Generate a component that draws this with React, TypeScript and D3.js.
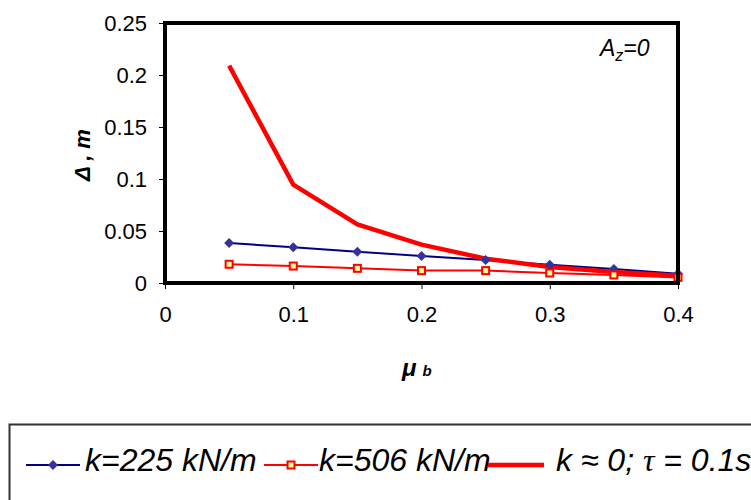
import React, { useEffect, useRef } from "react";
import * as d3 from "d3";

const muValues = [0.05, 0.1, 0.15, 0.2, 0.25, 0.3, 0.35, 0.4];
const k225 = [0.0385, 0.0343, 0.0301, 0.026, 0.0221, 0.0176, 0.0135, 0.009];
const k506 = [0.018, 0.0163, 0.0141, 0.0119, 0.0119, 0.0096, 0.0077, 0.0054];
const k0 = [0.209, 0.0946, 0.0564, 0.0369, 0.0234, 0.0154, 0.0106, 0.007];
const xTicks = [0, 0.1, 0.2, 0.3, 0.4];
const yTicks = [0, 0.05, 0.1, 0.15, 0.2, 0.25];

const W = 751;
const H = 500;
const L = 165, R = 678, T = 23, B = 283;
const FONT = "'Liberation Sans', Arial, sans-serif";

export default function App() {
  const xAxisRef = useRef<SVGGElement>(null);
  const yAxisRef = useRef<SVGGElement>(null);
  const x = d3.scaleLinear().domain([0, 0.4]).range([L, R]);
  const y = d3.scaleLinear().domain([0, 0.25]).range([B, T]);

  useEffect(() => {
    const xa = d3.select(xAxisRef.current!);
    xa.selectAll("*").remove();
    xa.call(
      d3.axisBottom(x).tickValues(xTicks).tickSize(6).tickPadding(17).tickFormat((d) => String(d))
    );
    xa.select(".domain").remove();
    xa.selectAll("text").attr("font-size", 22).attr("font-family", FONT).attr("fill", "#000");
    xa.selectAll("line").attr("stroke", "#000").attr("stroke-width", 1);

    const ya = d3.select(yAxisRef.current!);
    ya.selectAll("*").remove();
    ya.call(
      d3.axisLeft(y).tickValues(yTicks).tickSize(6).tickPadding(12).tickFormat((d) => String(d))
    );
    ya.select(".domain").remove();
    ya.selectAll("text").attr("font-size", 22).attr("font-family", FONT).attr("fill", "#000");
    ya.selectAll("line").attr("stroke", "#000").attr("stroke-width", 1);
  }, []);

  const line = d3
    .line<number>()
    .x((_, i) => x(muValues[i]))
    .y((d) => y(d));

  const diamond = (cx: number, cy: number, r: number) =>
    `M${cx},${cy - r}L${cx + r},${cy}L${cx},${cy + r}L${cx - r},${cy}Z`;

  return (
    <svg
      width={W}
      height={H}
      style={{ position: "fixed", left: 0, top: 0, background: "#fff" }}
    >
      <rect x={0} y={0} width={W} height={H} fill="#fff" />
      <g ref={xAxisRef} transform={`translate(0,${B})`} />
      <g ref={yAxisRef} transform={`translate(${L},0)`} />

      <path d={line(k225) || ""} fill="none" stroke="#000080" strokeWidth={2} />
      <path d={line(k506) || ""} fill="none" stroke="#ff0000" strokeWidth={2} />
      <path d={line(k0) || ""} fill="none" stroke="#ff0000" strokeWidth={4.5} strokeLinejoin="round" />

      {k225.map((v, i) => (
        <path key={"d" + i} d={diamond(x(muValues[i]), y(v), 5)} fill="#333399" />
      ))}
      {k506.map((v, i) => (
        <rect
          key={"s" + i}
          x={x(muValues[i]) - 3.5}
          y={y(v) - 3.5}
          width={7}
          height={7}
          fill="#ffff99"
          stroke="#ff0000"
          strokeWidth={2}
        />
      ))}

      <rect x={L} y={T} width={R - L} height={B - T} fill="none" stroke="#000" strokeWidth={4} />

      <text x={600} y={56} fontFamily={FONT} fontStyle="italic" fontSize={23}>
        A<tspan fontSize={16} dy={5}>z</tspan>
        <tspan dy={-5}>=0</tspan>
      </text>

      <text
        transform="translate(82,155) rotate(-90)"
        textAnchor="middle"
        fontFamily={FONT}
        fontStyle="italic"
        fontWeight="bold"
        fontSize={22}
        dominantBaseline="central"
      >
        Δ , m
      </text>

      <text x={402} y={376} fontFamily={FONT} fontStyle="italic" fontWeight="bold" fontSize={24}>
        μ<tspan fontSize={15} dx={6}>b</tspan>
      </text>

      <rect x={9.5} y={424.5} width={800} height={120} fill="none" stroke="#333" strokeWidth={2} />
      <line x1={26} x2={80} y1={465} y2={465} stroke="#000080" strokeWidth={2} />
      <path d={diamond(53, 465, 5)} fill="#333399" />
      <text x={85} y={471} fontFamily={FONT} fontStyle="italic" fontSize={32}>
        k=225 kN/m
      </text>
      <line x1={264} x2={318} y1={465} y2={465} stroke="#ff0000" strokeWidth={2} />
      <rect x={287.5} y={461.5} width={7} height={7} fill="#ffff99" stroke="#ff0000" strokeWidth={2} />
      <text x={319} y={471} fontFamily={FONT} fontStyle="italic" fontSize={32}>
        k=506 kN/m
      </text>
      <line x1={488} x2={544} y1={465} y2={465} stroke="#ff0000" strokeWidth={4.5} />
      <text x={556} y={471} fontFamily={FONT} fontStyle="italic" fontSize={32}>
        k ≈ 0; <tspan fontFamily="'Liberation Serif', serif">τ</tspan> = 0.1s
      </text>
    </svg>
  );
}
